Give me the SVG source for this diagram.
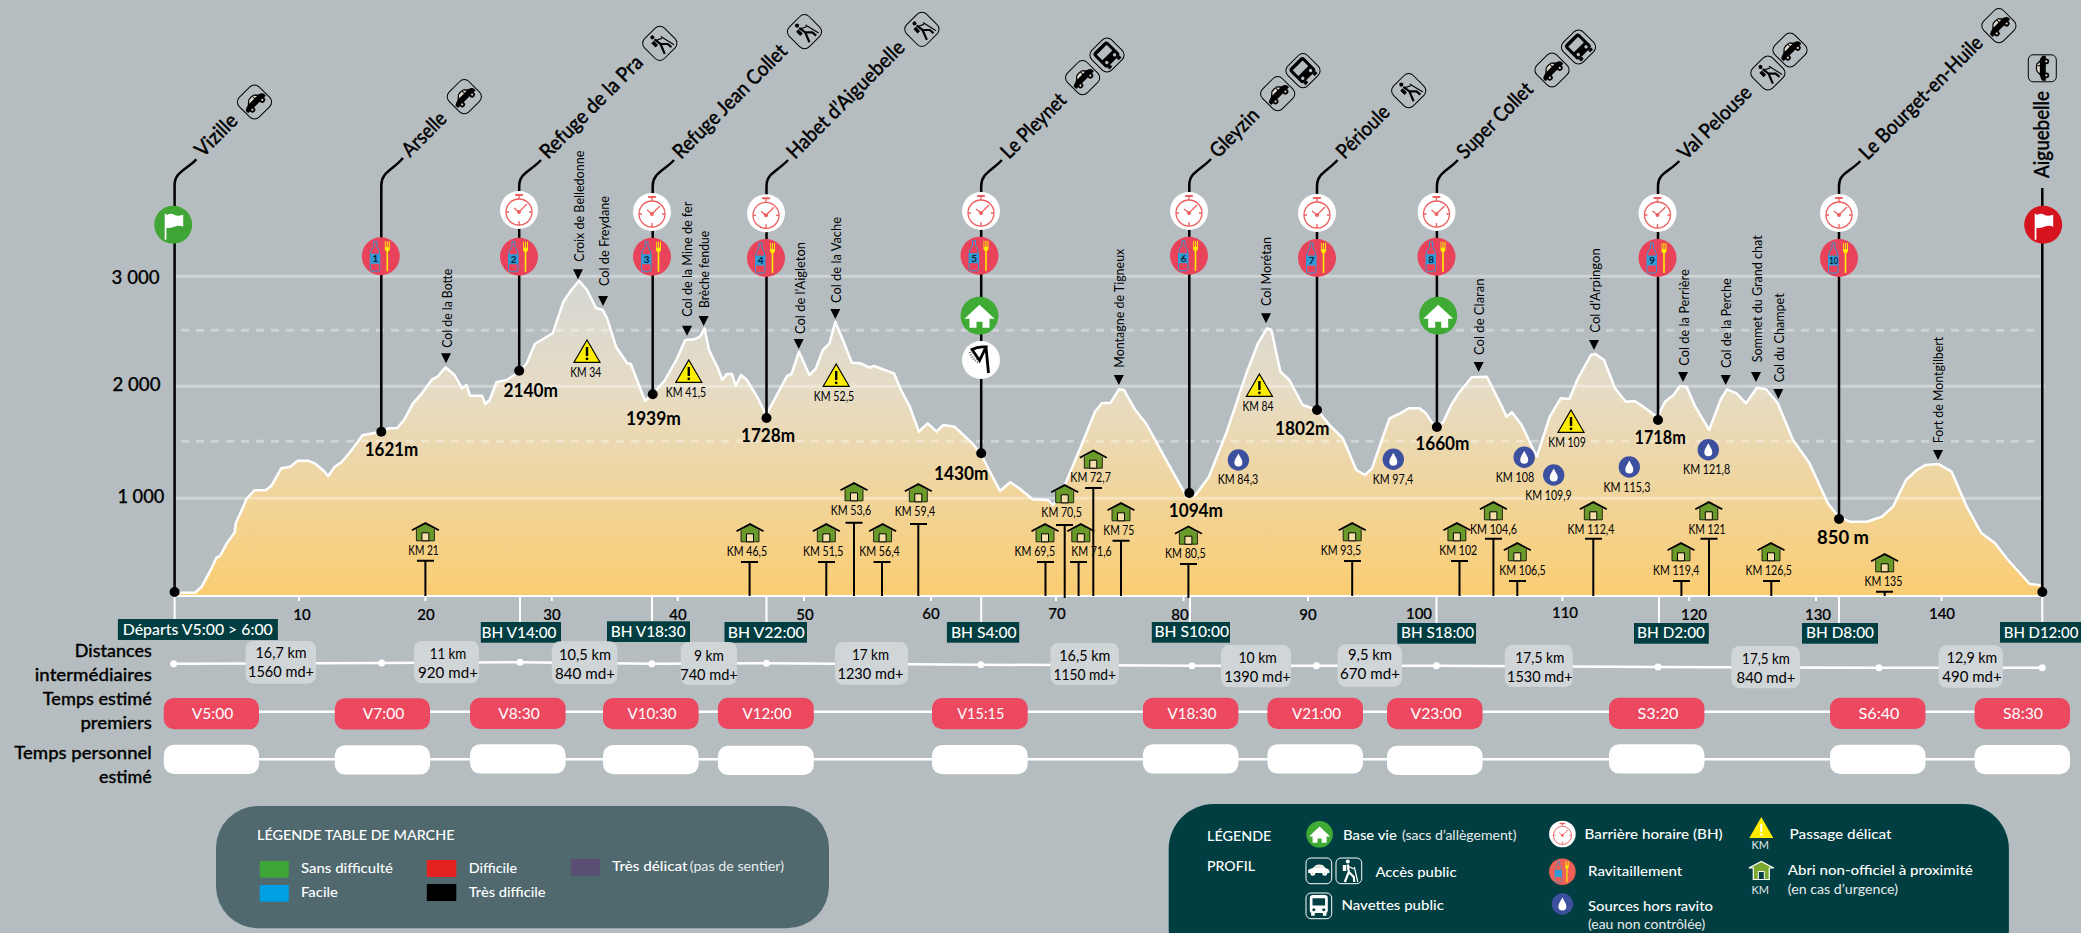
<svg xmlns="http://www.w3.org/2000/svg" width="2081" height="933" viewBox="0 0 2081 933">
<style>
text{font-family:Lato,"Open Sans","Liberation Sans",sans-serif;fill:#000}
.name{font-size:20.500px;font-weight:500;stroke:#000;stroke-width:.35}
.col{font-size:13px}
.km{font-size:12.500px;text-anchor:middle}
.num{font-size:10px;font-weight:700;text-anchor:middle;fill:#123}
.alt{font-size:18.500px;font-weight:700}
.yax{font-size:18.500px;font-weight:500;stroke:#000;stroke-width:.25}
.xax{font-size:15px;font-weight:500;text-anchor:middle;stroke:#000;stroke-width:.2}
.row{font-size:17.500px;font-weight:500;text-anchor:end;stroke:#000;stroke-width:.3}
.bh{font-size:15.500px;font-weight:500;fill:#fff}
.dist{font-size:15.500px;text-anchor:middle}
.t{font-size:15px;fill:#fff;text-anchor:middle}
.lg{font-size:13.500px;fill:#fff;font-weight:500}
.lgl{font-size:13px;fill:#e8eced}
.pole{fill:none;stroke:#000;stroke-width:2.500}
.post{fill:none;stroke:#000;stroke-width:2}
.grid{stroke:#fff;stroke-opacity:.35;stroke-width:3;fill:none}
.wl{stroke:#fff;stroke-width:2.500;fill:none}
.rp{fill:#ec4860}
.wp{fill:#fff}
.bx{fill:#d0d5d8}
.bb{fill:#003e41}
.tile{fill:none;stroke:currentColor;stroke-width:1}
</style>
<defs>
<linearGradient id="fillg" gradientUnits="userSpaceOnUse" x1="0" y1="280" x2="0" y2="596">
<stop offset="0" stop-color="#d6d7d4"/><stop offset=".35" stop-color="#e6dcc5"/><stop offset="1" stop-color="#fbcd72"/>
</linearGradient>
<path id="tri" d="M-5 0H5L0 10Z"/>
<g id="car"><path fill="currentColor" d="M-12.500 3.500V0Q-11-1.500-7-2.500L-3-6Q0-7 4.500-6L8-2.500Q12-1.500 12.500 1V3.500Z"/><path fill="#e4ddd0" d="M-2.500-5L-5-2.500H2V-5.300ZM3-5.300V-2.500H6L3.500-5.200Z"/><circle cx="-7" cy="4" r="2.900" fill="currentColor"/><circle cx="7" cy="4" r="2.900" fill="currentColor"/><circle cx="-7" cy="4" r="1.100" fill="#d9d4cc"/><circle cx="7" cy="4" r="1.100" fill="#d9d4cc"/></g>
<g id="hiker"><circle cx="-1" cy="-9.500" r="2" fill="currentColor"/><path fill="currentColor" d="M-6-6H-2.500V0H-6Z"/><path fill="none" stroke="currentColor" stroke-width="2.200" d="M-1-6.500L0 1L-4 11M0 1L5 6L5.500 11"/><path fill="none" stroke="currentColor" stroke-width="1.200" d="M-1-5L5-2M5.500-4L9 11"/></g>
<g id="bus"><path fill="currentColor" fill-rule="evenodd" d="M-6.500-11H6.500Q10-11 10-7.500V6.500Q10 9 7.500 9H-7.500Q-10 9-10 6.500V-7.500Q-10-11-6.500-11ZM-7-7.500V.5H7V-7.500ZM-5.500 3.500a1.700 1.700 0 1 0 .01 0ZM5.500 3.500a1.700 1.700 0 1 0 .01 0Z"/><path fill="currentColor" d="M-8.500 9H-4.500V12H-8.500ZM4.500 9H8.500V12H4.500Z"/></g>
<g id="tcar" style="color:#000"><rect class="tile" x="-14" y="-14" width="28" height="28" rx="6.500"/><use href="#car"/></g>
<g id="thik" style="color:#000"><rect class="tile" x="-14" y="-14" width="28" height="28" rx="6.500"/><use href="#hiker"/></g>
<g id="tbus" style="color:#000"><rect class="tile" x="-14" y="-14" width="28" height="28" rx="6.500"/><use href="#bus"/></g>
<g id="clk"><circle r="19" fill="#fff"/><g fill="none" stroke="#ee5f5f" stroke-width="1.300"><circle cy="2" r="13"/><path d="M-4-15H4M0-15V-11M0 11V15M-13 2H-10M10 2H13M-5-2L0 2L8-6" /></g><rect x="-3.500" y="-16" width="7" height="2" fill="#ee5f5f"/><circle cy="2" r="2" fill="#ee5f5f"/></g>
<g id="ravin"><path fill="none" stroke="#2f9bd7" d="M-7-15H-4V-10Q-1-6-1-2V13Q-1 15-3 15H-8Q-10.500 15-10.500 13V-2Q-10.500-6-7-10Z"/><rect x="-10.500" y="-2.500" width="9.500" height="10" fill="#2f9bd7"/><path fill="#ffed00" d="M4-15H4.800V-9H5.900V-15H6.900V-9H8V-15H9V-6.500L7.300-4.500V15H5.700V-4.500L4-6.500Z"/></g>
<g id="rav"><circle r="19" fill="#e8435a"/><use href="#ravin"/></g>
<path id="flag" fill="#fff" d="M-8.500-11H-6.800V15H-8.500ZM-6.800-9.500Q-2-12 1-10T10-10V2Q6 0 1 2T-6.800 3Z"/>
<path id="hs" fill="#fff" d="M0-11L15 3H10V12H3V6H-3V12H-10V3H-15Z"/>
<g id="base"><circle r="19" fill="#3fab35"/><use href="#hs"/></g>
<g id="sh"><path fill="#6a9b2a" d="M-9 7V18.500H9V7L0 1Z"/><path fill="none" stroke="#000" stroke-width=".8" d="M-9 7V18.500H9V7"/><path fill="none" stroke="#000" stroke-width="1.800" d="M-13.500 8L0 .8L13.500 8"/><path fill="#f6dfa8" stroke="#000" d="M-3.500 18.500V10.500H3.500V18.500Z"/></g>
<g id="war"><path fill="#ffed00" stroke="#000" stroke-width="1.200" d="M0 0L13 22.300H-13Z"/><rect x="-1.200" y="7" width="2.400" height="9" fill="#000"/><circle cy="18.800" r="1.400" fill="#000"/></g>
<g id="drp"><circle r="10.700" fill="#3d509f"/><path fill="#fff" d="M0-6.500C2-2.500 4-.5 4 2.500A4 4 0 0 1-4 2.500C-4-.5-2-2.500 0-6.500Z"/></g>
</defs>
<rect width="2081" height="933" fill="#b5bdc0"/>

<g id="profile">
<path fill="url(#fillg)" d="M174.600 596V592.700L195 592.700L201.800 586.700L209.800 571.700L216.500 557.700L220 556L226.800 543.300L234.800 532.300L235.700 523.300L243.300 506.700L246.900 498.300L254.500 490.300L265.600 490.300L271.400 485.700L281.300 468.300L290.200 466.700L297.800 460.700L308 460.700L314.700 463.300L323.700 470.700L328.100 476L334.800 466.700L341.500 462.300L350.400 451.700L362.500 435.300L380.800 431.700L388.400 428.300L397.300 428L404 420L413 403.300L421.900 393.300L432.100 379.300L437.500 376.700L445.500 367.300L454.500 375L462 388.300L466.500 385L470 395.700L482 395.700L485.300 404L489.700 400L496.400 382.300L506.700 380L519.200 371.700L526.800 363.300L534.800 344L552.700 333.300L563.400 301.700L571.400 290L579 280.700L587 290L596 308L602.700 310L607 318L616 346.700L627.200 363.300L630.800 364L645 400.700L652.700 394.300L665 380L676.300 360L685.300 340L694 339.300L700 336.700L704.500 328.300L709 350L717.900 368.300L722.300 380L726.800 374L732 374L735.700 386L741 375L747 380L758 398.300L766 415L776 396.700L787 376L791.500 374L799 351.700L809.400 375L816 368.300L822.800 350L829.500 343.300L835.300 321.700L842.900 340L851.800 362.700L860.700 363.300L869.600 367.700L874 366L894 373.300L901 390L909.800 406.700L918.800 431.700L927.700 423.300L936.600 431.700L943.300 425L954.500 426.700L972.300 443.300L981.300 455L1000 491L1010.300 482.300L1019.200 488.300L1032.600 499.300L1048.200 500L1052.700 505L1059.400 498.300L1068.300 476.700L1079.500 450L1095 411.700L1101.800 403.300L1110.700 402.700L1118.800 389.300L1124 390L1135.300 410L1146.400 424L1164.300 456.700L1186.600 496.700L1195.500 495L1209 476.700L1226.800 431.700L1247 371.700L1258 343.300L1267 328.300L1271.400 330L1280.400 371.700L1289.300 380L1302.700 405L1317.400 410L1329.500 425L1342.900 438.300L1356.300 470L1365 475L1372 468.300L1383 436.700L1389.700 418.300L1400 413.300L1408.700 408.300L1419.500 408.300L1426 413.300L1431.300 421.700L1436.500 426.700L1443.400 421.700L1451.200 405L1458.600 393.300L1471.700 377.300L1486.900 376.700L1502 406.700L1506.400 416.700L1512 412.300L1521.600 425L1536.800 456.700L1549.800 416.700L1560.700 398.300L1569.400 399L1578 378.300L1591 355L1595.400 354L1604 360L1615 388.300L1625.800 401.700L1634.500 401L1641 405L1657.500 417.300L1665 401.700L1673.600 395L1680 386L1686.600 386.700L1695.300 406.700L1709.200 430L1720.500 400L1727 389.300L1736.600 393.300L1746 403.300L1757 387.700L1766 389.300L1777.800 403.300L1793 440L1809.500 463.300L1827.800 503.300L1838.600 516.700L1849.500 521.700L1866.900 521.700L1882 516.700L1893 506.700L1906 480L1916.800 470L1925.500 465L1938.500 464L1951.600 471.700L1966.800 506.700L1981 532.700L1995 543.300L2008 560L2029.700 584L2040.600 585.300L2042.300 596Z"/>
<path class="grid" d="M173 276.300H2040M173 386.300H2045M173 498.300H2042"/>
<path class="grid" stroke-dasharray="8 7" d="M181 330.300H2040M181 441.300H2040"/>
<path fill="none" stroke="#fff" stroke-width="2.500" stroke-linejoin="round" d="M174.600 592.700L195 592.700L201.800 586.700L209.800 571.700L216.500 557.700L220 556L226.800 543.300L234.800 532.300L235.700 523.300L243.300 506.700L246.900 498.300L254.500 490.300L265.600 490.300L271.400 485.700L281.300 468.300L290.200 466.700L297.800 460.700L308 460.700L314.700 463.300L323.700 470.700L328.100 476L334.800 466.700L341.500 462.300L350.400 451.700L362.500 435.300L380.800 431.700L388.400 428.300L397.300 428L404 420L413 403.300L421.900 393.300L432.100 379.300L437.500 376.700L445.500 367.300L454.500 375L462 388.300L466.500 385L470 395.700L482 395.700L485.300 404L489.700 400L496.400 382.300L506.700 380L519.200 371.700L526.800 363.300L534.800 344L552.700 333.300L563.400 301.700L571.400 290L579 280.700L587 290L596 308L602.700 310L607 318L616 346.700L627.200 363.300L630.800 364L645 400.700L652.700 394.300L665 380L676.300 360L685.300 340L694 339.300L700 336.700L704.500 328.300L709 350L717.900 368.300L722.300 380L726.800 374L732 374L735.700 386L741 375L747 380L758 398.300L766 415L776 396.700L787 376L791.500 374L799 351.700L809.400 375L816 368.300L822.800 350L829.500 343.300L835.300 321.700L842.900 340L851.800 362.700L860.700 363.300L869.600 367.700L874 366L894 373.300L901 390L909.800 406.700L918.800 431.700L927.700 423.300L936.600 431.700L943.300 425L954.500 426.700L972.300 443.300L981.300 455L1000 491L1010.300 482.300L1019.200 488.300L1032.600 499.300L1048.200 500L1052.700 505L1059.400 498.300L1068.300 476.700L1079.500 450L1095 411.700L1101.800 403.300L1110.700 402.700L1118.800 389.300L1124 390L1135.300 410L1146.400 424L1164.300 456.700L1186.600 496.700L1195.500 495L1209 476.700L1226.800 431.700L1247 371.700L1258 343.300L1267 328.300L1271.400 330L1280.400 371.700L1289.300 380L1302.700 405L1317.400 410L1329.500 425L1342.900 438.300L1356.300 470L1365 475L1372 468.300L1383 436.700L1389.700 418.300L1400 413.300L1408.700 408.300L1419.500 408.300L1426 413.300L1431.300 421.700L1436.500 426.700L1443.400 421.700L1451.200 405L1458.600 393.300L1471.700 377.300L1486.900 376.700L1502 406.700L1506.400 416.700L1512 412.300L1521.600 425L1536.800 456.700L1549.800 416.700L1560.700 398.300L1569.400 399L1578 378.300L1591 355L1595.400 354L1604 360L1615 388.300L1625.800 401.700L1634.500 401L1641 405L1657.500 417.300L1665 401.700L1673.600 395L1680 386L1686.600 386.700L1695.300 406.700L1709.200 430L1720.500 400L1727 389.300L1736.600 393.300L1746 403.300L1757 387.700L1766 389.300L1777.800 403.300L1793 440L1809.500 463.300L1827.800 503.300L1838.600 516.700L1849.500 521.700L1866.900 521.700L1882 516.700L1893 506.700L1906 480L1916.800 470L1925.500 465L1938.500 464L1951.600 471.700L1966.800 506.700L1981 532.700L1995 543.300L2008 560L2029.700 584L2040.600 585.300"/>
<path fill="none" stroke="#fff" stroke-width="2" d="M174.600 596H2042.300M299 596V601M425.400 596V601M551.800 596V601M677.700 596V601M804 596V601M931 596V601M1056 596V601M1183.500 596V601M1308 596V601M1562.400 596V601M1689.200 596V601M1816 596V601M1941.600 596V601M174.600 596V621M520 596V622M652 596V621M766.500 596V622M981.200 596V622M1190 596V622M1436.500 596V623M1659 596V623M1839 596V623M2042.300 596V622"/>
<g><text class="xax" x="302" y="620">10</text><text class="xax" x="426" y="620">20</text><text class="xax" x="552" y="620">30</text><text class="xax" x="678" y="620">40</text><text class="xax" x="805" y="620">50</text><text class="xax" x="931" y="619">60</text><text class="xax" x="1057" y="619">70</text><text class="xax" x="1180" y="620">80</text><text class="xax" x="1308" y="620">90</text><text class="xax" x="1419" y="619">100</text><text class="xax" x="1565" y="618">110</text><text class="xax" x="1694" y="620">120</text><text class="xax" x="1818" y="620">130</text><text class="xax" x="1942" y="619">140</text></g>
<text class="yax" x="111.600" y="284" textLength="48" lengthAdjust="spacingAndGlyphs">3 000</text>
<text class="yax" x="112.500" y="391.300" textLength="48" lengthAdjust="spacingAndGlyphs">2 000</text>
<text class="yax" x="117.400" y="503.300" textLength="47" lengthAdjust="spacingAndGlyphs">1 000</text>
</g>

<g id="connectors">
<path class="pole" d="M174.600 592V185C174.600 172 186 170 196.400 159.300"/>
<path class="pole" d="M381.300 431V185C381.300 172 393 170 403 158"/>
<path class="pole" d="M519.200 370V186C519.200 173 531 171 541 160"/>
<path class="pole" d="M652.700 394V186C652.700 173 664 171 674 160"/>
<path class="pole" d="M766.500 418V186C766.500 173 778 171 788 160"/>
<path class="pole" d="M981.200 453V186C981.200 173 992 171 1001.800 160"/>
<path class="pole" d="M1189.300 493V185C1189.300 172 1201 170 1211 159"/>
<path class="pole" d="M1317 410V186C1317 173 1328 171 1337.500 160"/>
<path class="pole" d="M1436.900 427V186C1436.900 173 1448 171 1457.800 160"/>
<path class="pole" d="M1658 420V186C1658 173 1669 172 1679.300 161"/>
<path class="pole" d="M1839 519V186C1839 173 1850 172 1860.400 161"/>
<path class="pole" d="M2042.300 592V188"/>
<path class="post" d="M425.400 596V560.700M417 560.700H434M749.600 596V562M741 562H758M826.300 596V562M818 562H835M854 596V522.700M845.500 522.700H862.500M882 596V562M873.500 562H890.500M918.300 596V524M910 524H927M1045.500 596V562M1037 562H1054M1064.700 598V525M1056 525H1073M1078.600 596V562M1070 562H1087M1093.300 596V488M1085 488H1102M1121 596V540.700M1112.500 540.700H1129.500M1188.400 598V564M1180 564H1197M1352.200 596V561M1344 561H1361M1459.500 596V561M1451 561H1468M1493.400 596V538.700M1485 538.700H1502M1517.300 596V581M1509 581H1526M1593.300 596V538.700M1585 538.700H1602M1681.400 596V581M1673 581H1690M1709 596V538.700M1700.500 538.700H1717.500M1771.300 596V581M1763 581H1780M1884.700 596V591.700M1876 591.700H1893"/>
</g>

<g id="n-vizille"><circle cx="173.200" cy="224.700" r="19" fill="#3fa535"/><use href="#flag" x="173.200" y="224.700"/><circle cx="174.600" cy="592" r="5"/><text class="name" transform="translate(203,158) rotate(-45)" textLength="51" lengthAdjust="spacingAndGlyphs">Vizille</text><use href="#tcar" transform="translate(254.500,102) rotate(-45)"/></g>
<g id="n-arselle"><use href="#rav" x="380.800" y="256.300"/><text class="num" x="375.500" y="262.300">1</text><circle cx="381.300" cy="431.700" r="5"/><text class="alt" x="364.700" y="456" textLength="53.600" lengthAdjust="spacingAndGlyphs">1621m</text><text class="name" transform="translate(410,158) rotate(-45)" textLength="53.600" lengthAdjust="spacingAndGlyphs">Arselle</text><use href="#tcar" transform="translate(464.300,96.700) rotate(-45)"/></g>
<g id="n-pra"><use href="#clk" x="519" y="210"/><use href="#rav" x="519" y="256.700"/><text class="num" x="513.700" y="262.700">2</text><circle cx="519.200" cy="370.700" r="5"/><text class="alt" x="503.600" y="396.700" textLength="54.400" lengthAdjust="spacingAndGlyphs">2140m</text><text class="name" transform="translate(548,160) rotate(-45)" textLength="136" lengthAdjust="spacingAndGlyphs">Refuge de la Pra</text><use href="#thik" transform="translate(659.800,43.300) rotate(-45)"/></g>
<g id="n-collet"><use href="#clk" x="652" y="212"/><use href="#rav" x="652" y="256.700"/><text class="num" x="646.700" y="262.700">3</text><circle cx="652.700" cy="394.300" r="5"/><text class="alt" x="625.900" y="425" textLength="55" lengthAdjust="spacingAndGlyphs">1939m</text><text class="name" transform="translate(681,160) rotate(-45)" textLength="152" lengthAdjust="spacingAndGlyphs">Refuge Jean Collet</text><use href="#thik" transform="translate(804.500,31.700) rotate(-45)"/></g>
<g id="n-habet"><use href="#clk" x="766" y="213.300"/><use href="#rav" x="766" y="258"/><text class="num" x="760.700" y="264">4</text><circle cx="766.500" cy="418" r="5"/><text class="alt" x="741" y="442" textLength="54" lengthAdjust="spacingAndGlyphs">1728m</text><text class="name" transform="translate(795,160) rotate(-45)" textLength="157" lengthAdjust="spacingAndGlyphs">Habet d’Aiguebelle</text><use href="#thik" transform="translate(921.900,29.300) rotate(-45)"/></g>
<g id="n-pleynet"><use href="#clk" x="981" y="211"/><use href="#rav" x="979.500" y="255.700"/><text class="num" x="974.200" y="261.700">5</text><use href="#base" x="979.500" y="315.700"/><circle cx="981" cy="360" r="19" fill="#fff"/><path d="M972 349.500Q978 346 986 347L979.500 360.500ZM986 347L988.500 373" fill="none" stroke="#000" stroke-width="2.800"/><path d="M970 352Q971 358 979 362.500" fill="none" stroke="#777" stroke-width="3" stroke-dasharray="1 1.500"/><circle cx="981.200" cy="453.300" r="5"/><text class="alt" x="934" y="480" textLength="54.400" lengthAdjust="spacingAndGlyphs">1430m</text><text class="name" transform="translate(1009,160) rotate(-45)" textLength="83" lengthAdjust="spacingAndGlyphs">Le Pleynet</text><use href="#tcar" transform="translate(1082.600,77.700) rotate(-45)"/><use href="#tbus" transform="translate(1107,55) rotate(-45)"/></g>
<g id="n-gleyzin"><use href="#clk" x="1189" y="211"/><use href="#rav" x="1189" y="255.700"/><text class="num" x="1183.700" y="261.700">6</text><circle cx="1189.300" cy="493" r="5"/><text class="alt" x="1168.700" y="516.700" textLength="54.300" lengthAdjust="spacingAndGlyphs">1094m</text><text class="name" transform="translate(1218,159) rotate(-45)" textLength="60" lengthAdjust="spacingAndGlyphs">Gleyzin</text><use href="#tcar" transform="translate(1277.700,93.700) rotate(-45)"/><use href="#tbus" transform="translate(1303,70.700) rotate(-45)"/></g>
<g id="n-perioule"><use href="#clk" x="1317" y="213"/><use href="#rav" x="1317" y="258"/><text class="num" x="1311.700" y="264">7</text><circle cx="1317" cy="410" r="5"/><text class="alt" x="1275" y="435" textLength="54.500" lengthAdjust="spacingAndGlyphs">1802m</text><text class="name" transform="translate(1344.500,160) rotate(-45)" textLength="66" lengthAdjust="spacingAndGlyphs">Périoule</text><use href="#thik" transform="translate(1408.700,90.700) rotate(-45)"/></g>
<g id="n-supercollet"><use href="#clk" x="1436.500" y="212"/><use href="#rav" x="1436.500" y="256.700"/><text class="num" x="1431.200" y="262.700">8</text><use href="#base" x="1438.200" y="315.700"/><circle cx="1436.900" cy="427" r="5"/><text class="alt" x="1415.200" y="450" textLength="54.300" lengthAdjust="spacingAndGlyphs">1660m</text><text class="name" transform="translate(1465,160) rotate(-45)" textLength="98" lengthAdjust="spacingAndGlyphs">Super Collet</text><use href="#tcar" transform="translate(1552,70) rotate(-45)"/><use href="#tbus" transform="translate(1578.500,47) rotate(-45)"/></g>
<g id="n-valpelouse"><use href="#clk" x="1657.500" y="213"/><use href="#rav" x="1657.500" y="258"/><text class="num" x="1652.200" y="264">9</text><circle cx="1658" cy="420" r="5"/><text class="alt" x="1634.500" y="444.300" textLength="51.300" lengthAdjust="spacingAndGlyphs">1718m</text><text class="name" transform="translate(1686,161) rotate(-45)" textLength="95" lengthAdjust="spacingAndGlyphs">Val Pelouse</text><use href="#thik" transform="translate(1767.900,73) rotate(-45)"/><use href="#tcar" transform="translate(1790,50) rotate(-45)"/></g>
<g id="n-bourget"><use href="#clk" x="1839" y="213"/><use href="#rav" x="1839" y="258"/><text class="num" x="1833.700" y="264" textLength="9" lengthAdjust="spacingAndGlyphs">10</text><circle cx="1839" cy="519" r="5"/><text class="alt" x="1817" y="544.300" textLength="52" lengthAdjust="spacingAndGlyphs">850 m</text><text class="name" transform="translate(1867.500,161) rotate(-45)" textLength="165" lengthAdjust="spacingAndGlyphs">Le Bourget-en-Huile</text><use href="#tcar" transform="translate(1998.900,25.700) rotate(-45)"/></g>
<g id="n-aiguebelle"><circle cx="2043.200" cy="224.700" r="19" fill="#d6141e"/><use href="#flag" x="2043.200" y="224.700"/><circle cx="2042.300" cy="592" r="5"/><text class="name" transform="translate(2049,178) rotate(-90)" textLength="87" lengthAdjust="spacingAndGlyphs">Aiguebelle</text><rect x="2028.300" y="54.800" width="28" height="27" rx="5" class="tile" style="color:#000"/><use href="#car" style="color:#000" transform="translate(2042.300,68.300) rotate(-90)"/></g>

<g id="cols">
<use href="#tri" x="446" y="353.300"/><text class="col" transform="translate(451.500,347.700) rotate(-90)" textLength="79" lengthAdjust="spacingAndGlyphs">Col de la Botte</text>
<use href="#tri" x="578" y="269.300"/><text class="col" transform="translate(583.500,261.700) rotate(-90)" textLength="111" lengthAdjust="spacingAndGlyphs">Croix de Belledonne</text>
<use href="#tri" x="603" y="296"/><text class="col" transform="translate(609,286) rotate(-90)" textLength="90" lengthAdjust="spacingAndGlyphs">Col de Freydane</text>
<use href="#tri" x="687" y="325.700"/><text class="col" transform="translate(692,316.700) rotate(-90)" textLength="115" lengthAdjust="spacingAndGlyphs">Col de la Mine de fer</text>
<use href="#tri" x="703.600" y="316"/><text class="col" transform="translate(709,308) rotate(-90)" textLength="77" lengthAdjust="spacingAndGlyphs">Brèche fendue</text>
<use href="#tri" x="798.700" y="339"/><text class="col" transform="translate(805,334) rotate(-90)" textLength="92" lengthAdjust="spacingAndGlyphs">Col de l’Aigleton</text>
<use href="#tri" x="835.300" y="309"/><text class="col" transform="translate(841,303) rotate(-90)" textLength="86" lengthAdjust="spacingAndGlyphs">Col de la Vache</text>
<use href="#tri" x="1118.800" y="375"/><text class="col" transform="translate(1123.500,367.700) rotate(-90)" textLength="119" lengthAdjust="spacingAndGlyphs">Montagne de Tigneux</text>
<use href="#tri" x="1266" y="313.300"/><text class="col" transform="translate(1271.400,306) rotate(-90)" textLength="69" lengthAdjust="spacingAndGlyphs">Col Morétan</text>
<use href="#tri" x="1478.600" y="362"/><text class="col" transform="translate(1483.800,355) rotate(-90)" textLength="76.500" lengthAdjust="spacingAndGlyphs">Col de Claran</text>
<use href="#tri" x="1594" y="340"/><text class="col" transform="translate(1599.800,332.700) rotate(-90)" textLength="84.400" lengthAdjust="spacingAndGlyphs">Col d’Arpingon</text>
<use href="#tri" x="1683" y="372"/><text class="col" transform="translate(1688.800,365.700) rotate(-90)" textLength="96.400" lengthAdjust="spacingAndGlyphs">Col de la Perrière</text>
<use href="#tri" x="1725.700" y="375"/><text class="col" transform="translate(1731.400,368) rotate(-90)" textLength="89.700" lengthAdjust="spacingAndGlyphs">Col de la Perche</text>
<use href="#tri" x="1756" y="372"/><text class="col" transform="translate(1761.800,362.300) rotate(-90)" textLength="127" lengthAdjust="spacingAndGlyphs">Sommet du Grand chat</text>
<use href="#tri" x="1778.300" y="389"/><text class="col" transform="translate(1784,382.300) rotate(-90)" textLength="89" lengthAdjust="spacingAndGlyphs">Col du Champet</text>
<use href="#tri" x="1938" y="450"/><text class="col" transform="translate(1943,443.300) rotate(-90)" textLength="106.600" lengthAdjust="spacingAndGlyphs">Fort de Montgilbert</text>
</g>

<g id="warnings">
<use href="#war" x="587" y="340"/><text class="km" x="585.700" y="376.700" textLength="31" lengthAdjust="spacingAndGlyphs">KM 34</text>
<use href="#war" x="688.800" y="360"/><text class="km" x="686" y="397" textLength="40.500" lengthAdjust="spacingAndGlyphs">KM 41,5</text>
<use href="#war" x="836.200" y="364"/><text class="km" x="834" y="401" textLength="40.500" lengthAdjust="spacingAndGlyphs">KM 52,5</text>
<use href="#war" x="1259.400" y="374"/><text class="km" x="1258" y="411" textLength="31" lengthAdjust="spacingAndGlyphs">KM 84</text>
<use href="#war" x="1571" y="410"/><text class="km" x="1567" y="447" textLength="37.500" lengthAdjust="spacingAndGlyphs">KM 109</text>
</g>
<g id="sources">
<use href="#drp" x="1238.400" y="460"/><text class="km" x="1238" y="483.700" textLength="40.500" lengthAdjust="spacingAndGlyphs">KM 84,3</text>
<use href="#drp" x="1393.300" y="459.300"/><text class="km" x="1393" y="483.700" textLength="40.500" lengthAdjust="spacingAndGlyphs">KM 97,4</text>
<use href="#drp" x="1524.200" y="457.300"/><text class="km" x="1515" y="482" textLength="38.500" lengthAdjust="spacingAndGlyphs">KM 108</text>
<use href="#drp" x="1553.700" y="475"/><text class="km" x="1548.500" y="500" textLength="46.500" lengthAdjust="spacingAndGlyphs">KM 109,9</text>
<use href="#drp" x="1629.300" y="467"/><text class="km" x="1627" y="492" textLength="47" lengthAdjust="spacingAndGlyphs">KM 115,3</text>
<use href="#drp" x="1708.300" y="449.700"/><text class="km" x="1706.600" y="474" textLength="47" lengthAdjust="spacingAndGlyphs">KM 121,8</text>
</g>
<g id="shelters">
<use href="#sh" x="425.400" y="522.300"/><text class="km" x="423.500" y="555" textLength="30.500" lengthAdjust="spacingAndGlyphs">KM 21</text>
<use href="#sh" x="750" y="523.300"/><text class="km" x="746.900" y="556" textLength="40.500" lengthAdjust="spacingAndGlyphs">KM 46,5</text>
<use href="#sh" x="826.300" y="523.300"/><text class="km" x="823.200" y="556" textLength="40.500" lengthAdjust="spacingAndGlyphs">KM 51,5</text>
<use href="#sh" x="854" y="482.300"/><text class="km" x="850.900" y="515" textLength="40.500" lengthAdjust="spacingAndGlyphs">KM 53,6</text>
<use href="#sh" x="882.600" y="523.300"/><text class="km" x="879.500" y="556" textLength="40.500" lengthAdjust="spacingAndGlyphs">KM 56,4</text>
<use href="#sh" x="918.300" y="483.300"/><text class="km" x="915" y="515.700" textLength="40.500" lengthAdjust="spacingAndGlyphs">KM 59,4</text>
<use href="#sh" x="1045" y="523.300"/><text class="km" x="1034.800" y="556" textLength="40.500" lengthAdjust="spacingAndGlyphs">KM 69,5</text>
<use href="#sh" x="1064.700" y="484.300"/><text class="km" x="1061.600" y="517" textLength="40.500" lengthAdjust="spacingAndGlyphs">KM 70,5</text>
<use href="#sh" x="1080.800" y="523.300"/><text class="km" x="1091.500" y="556" textLength="40.500" lengthAdjust="spacingAndGlyphs">KM 71,6</text>
<use href="#sh" x="1093.300" y="449.700"/><text class="km" x="1090.600" y="482" textLength="40.500" lengthAdjust="spacingAndGlyphs">KM 72,7</text>
<use href="#sh" x="1121" y="502.300"/><text class="km" x="1118.800" y="535" textLength="31" lengthAdjust="spacingAndGlyphs">KM 75</text>
<use href="#sh" x="1188.400" y="525.700"/><text class="km" x="1185.300" y="558" textLength="40.500" lengthAdjust="spacingAndGlyphs">KM 80,5</text>
<use href="#sh" x="1352.200" y="522.300"/><text class="km" x="1341" y="555" textLength="40.500" lengthAdjust="spacingAndGlyphs">KM 93,5</text>
<use href="#sh" x="1456.900" y="522.300"/><text class="km" x="1458.200" y="555" textLength="38" lengthAdjust="spacingAndGlyphs">KM 102</text>
<use href="#sh" x="1493.400" y="501.300"/><text class="km" x="1493.400" y="534" textLength="47" lengthAdjust="spacingAndGlyphs">KM 104,6</text>
<use href="#sh" x="1517.300" y="542.300"/><text class="km" x="1522.500" y="575" textLength="46.500" lengthAdjust="spacingAndGlyphs">KM 106,5</text>
<use href="#sh" x="1593.300" y="501.300"/><text class="km" x="1591" y="534" textLength="47" lengthAdjust="spacingAndGlyphs">KM 112,4</text>
<use href="#sh" x="1681" y="542.300"/><text class="km" x="1676.200" y="575" textLength="46.500" lengthAdjust="spacingAndGlyphs">KM 119,4</text>
<use href="#sh" x="1708.800" y="501.300"/><text class="km" x="1707" y="534" textLength="37" lengthAdjust="spacingAndGlyphs">KM 121</text>
<use href="#sh" x="1771" y="542.300"/><text class="km" x="1768.700" y="575" textLength="46.500" lengthAdjust="spacingAndGlyphs">KM 126,5</text>
<use href="#sh" x="1884.700" y="553.300"/><text class="km" x="1883.400" y="585.700" textLength="38" lengthAdjust="spacingAndGlyphs">KM 135</text>
</g>

<g id="bh-labels">
<rect class="bb" x="117.900" y="619" width="160" height="21"/><text class="bh" x="122.800" y="635" textLength="150" lengthAdjust="spacingAndGlyphs">Départs V5:00 &gt; 6:00</text>
<rect class="bb" x="480.800" y="622" width="80.200" height="20.700"/><text class="bh" x="481.500" y="637.700" textLength="75" lengthAdjust="spacingAndGlyphs">BH V14:00</text>
<rect class="bb" x="607" y="621.300" width="83" height="20.700"/><text class="bh" x="610.700" y="637" textLength="75" lengthAdjust="spacingAndGlyphs">BH V18:30</text>
<rect class="bb" x="724.500" y="622" width="82.500" height="20.700"/><text class="bh" x="727.700" y="637.700" textLength="77" lengthAdjust="spacingAndGlyphs">BH V22:00</text>
<rect class="bb" x="946.900" y="622" width="72.300" height="20.700"/><text class="bh" x="950.900" y="637.700" textLength="65.600" lengthAdjust="spacingAndGlyphs">BH S4:00</text>
<rect class="bb" x="1151.800" y="622" width="78.200" height="20.700"/><text class="bh" x="1154.500" y="637" textLength="74.500" lengthAdjust="spacingAndGlyphs">BH S10:00</text>
<rect class="bb" x="1397.300" y="623" width="78.700" height="20.700"/><text class="bh" x="1401" y="638.300" textLength="73" lengthAdjust="spacingAndGlyphs">BH S18:00</text>
<rect class="bb" x="1634" y="623" width="74.800" height="20.700"/><text class="bh" x="1637" y="638.300" textLength="68" lengthAdjust="spacingAndGlyphs">BH D2:00</text>
<rect class="bb" x="1802" y="623" width="76" height="20.700"/><text class="bh" x="1806" y="638.300" textLength="68" lengthAdjust="spacingAndGlyphs">BH D8:00</text>
<rect class="bb" x="2000" y="622" width="81" height="20.700"/><text class="bh" x="2003.700" y="637.700" textLength="74.700" lengthAdjust="spacingAndGlyphs">BH D12:00</text>
</g>

<g id="row-labels">
<text class="row" x="151.800" y="657.300" textLength="77" lengthAdjust="spacingAndGlyphs">Distances</text>
<text class="row" x="151.800" y="681.300" textLength="117" lengthAdjust="spacingAndGlyphs">intermédiaires</text>
<text class="row" x="151.800" y="705.300" textLength="109" lengthAdjust="spacingAndGlyphs">Temps estimé</text>
<text class="row" x="151.800" y="729" textLength="71.400" lengthAdjust="spacingAndGlyphs">premiers</text>
<text class="row" x="151.800" y="759" textLength="137.500" lengthAdjust="spacingAndGlyphs">Temps personnel</text>
<text class="row" x="151.800" y="783" textLength="52.700" lengthAdjust="spacingAndGlyphs">estimé</text>
</g>

<g id="distances">
<path class="wl" d="M173.700 663.700L381.700 663L520 662.300L651.800 663.700L766.500 663.300L980.800 664.700L1192 665.700L1316.500 665.700L1436.500 665.700L1658 667L1879 667.700L2042.300 667.700"/>
<g fill="#fff"><circle cx="173.700" cy="663.700" r="3.500"/><circle cx="381.700" cy="663" r="3.500"/><circle cx="520" cy="662.300" r="3.500"/><circle cx="651.800" cy="663.700" r="3.500"/><circle cx="766.500" cy="663.300" r="3.500"/><circle cx="980.800" cy="664.700" r="3.500"/><circle cx="1192" cy="665.700" r="3.500"/><circle cx="1316.500" cy="665.700" r="3.500"/><circle cx="1436.500" cy="665.700" r="3.500"/><circle cx="1658" cy="667" r="3.500"/><circle cx="1879" cy="667.700" r="3.500"/><circle cx="2042.300" cy="667.700" r="3.500"/></g>
<rect class="bx" x="245.500" y="641" width="70.500" height="42.700" rx="8"/><text class="dist" x="281" y="658" textLength="51" lengthAdjust="spacingAndGlyphs">16,7 km</text><text class="dist" x="281" y="677" textLength="66" lengthAdjust="spacingAndGlyphs">1560 md+</text>
<rect class="bx" x="414" y="641" width="65" height="42.300" rx="8"/><text class="dist" x="448" y="659.300" textLength="36.600" lengthAdjust="spacingAndGlyphs">11 km</text><text class="dist" x="448" y="678" textLength="59.800" lengthAdjust="spacingAndGlyphs">920 md+</text>
<rect class="bx" x="551.800" y="641.300" width="65.600" height="42.700" rx="8"/><text class="dist" x="585" y="660" textLength="52" lengthAdjust="spacingAndGlyphs">10,5 km</text><text class="dist" x="585" y="679" textLength="60" lengthAdjust="spacingAndGlyphs">840 md+</text>
<rect class="bx" x="680.800" y="642" width="56.200" height="43" rx="8"/><text class="dist" x="709" y="661" textLength="30" lengthAdjust="spacingAndGlyphs">9 km</text><text class="dist" x="709" y="680" textLength="57.600" lengthAdjust="spacingAndGlyphs">740 md+</text>
<rect class="bx" x="835" y="642" width="73" height="42.700" rx="8"/><text class="dist" x="870.500" y="660" textLength="37" lengthAdjust="spacingAndGlyphs">17 km</text><text class="dist" x="870.500" y="679" textLength="66" lengthAdjust="spacingAndGlyphs">1230 md+</text>
<rect class="bx" x="1050.400" y="643" width="68.400" height="42" rx="8"/><text class="dist" x="1084.800" y="661" textLength="51" lengthAdjust="spacingAndGlyphs">16,5 km</text><text class="dist" x="1084.800" y="680" textLength="62.500" lengthAdjust="spacingAndGlyphs">1150 md+</text>
<rect class="bx" x="1221" y="645" width="70" height="42.300" rx="8"/><text class="dist" x="1257.600" y="663.300" textLength="38.400" lengthAdjust="spacingAndGlyphs">10 km</text><text class="dist" x="1257.600" y="682" textLength="66.500" lengthAdjust="spacingAndGlyphs">1390 md+</text>
<rect class="bx" x="1337.500" y="644.300" width="64.500" height="42.400" rx="8"/><text class="dist" x="1370" y="660" textLength="44" lengthAdjust="spacingAndGlyphs">9,5 km</text><text class="dist" x="1370" y="679" textLength="60" lengthAdjust="spacingAndGlyphs">670 md+</text>
<rect class="bx" x="1504.700" y="644.700" width="68.100" height="42.300" rx="8"/><text class="dist" x="1539.800" y="663.300" textLength="49" lengthAdjust="spacingAndGlyphs">17,5 km</text><text class="dist" x="1539.800" y="682" textLength="65.600" lengthAdjust="spacingAndGlyphs">1530 md+</text>
<rect class="bx" x="1731.400" y="646" width="68.600" height="42.300" rx="8"/><text class="dist" x="1766" y="664.300" textLength="47.800" lengthAdjust="spacingAndGlyphs">17,5 km</text><text class="dist" x="1766" y="683" textLength="59" lengthAdjust="spacingAndGlyphs">840 md+</text>
<rect class="bx" x="1938.500" y="645.300" width="64.300" height="42.400" rx="8"/><text class="dist" x="1972" y="663.300" textLength="50.400" lengthAdjust="spacingAndGlyphs">12,9 km</text><text class="dist" x="1972" y="682" textLength="59.500" lengthAdjust="spacingAndGlyphs">490 md+</text>
</g>

<g id="temps-premiers">
<path class="wl" d="M259 711.700H2000"/>
<rect class="rp" x="163.800" y="698" width="95.200" height="31.300" rx="10"/><text class="t" x="212.500" y="719.300" textLength="41.500" lengthAdjust="spacingAndGlyphs">V5:00</text>
<rect class="rp" x="334.800" y="698.300" width="95.200" height="31.300" rx="10"/><text class="t" x="383.500" y="719.300" textLength="41.500" lengthAdjust="spacingAndGlyphs">V7:00</text>
<rect class="rp" x="470" y="697.700" width="95.600" height="31.300" rx="10"/><text class="t" x="519" y="719.300" textLength="41.500" lengthAdjust="spacingAndGlyphs">V8:30</text>
<rect class="rp" x="603" y="698" width="95.600" height="31.300" rx="10"/><text class="t" x="652" y="719.300" textLength="49" lengthAdjust="spacingAndGlyphs">V10:30</text>
<rect class="rp" x="717.900" y="697.700" width="95.900" height="31.300" rx="10"/><text class="t" x="767" y="719.300" textLength="49" lengthAdjust="spacingAndGlyphs">V12:00</text>
<rect class="rp" x="932" y="698" width="95.700" height="31.300" rx="10"/><text class="t" x="980.800" y="719.300" textLength="47" lengthAdjust="spacingAndGlyphs">V15:15</text>
<rect class="rp" x="1142.900" y="697.700" width="95.500" height="31.300" rx="10"/><text class="t" x="1192" y="719.300" textLength="49" lengthAdjust="spacingAndGlyphs">V18:30</text>
<rect class="rp" x="1267.400" y="697.700" width="95.600" height="31.300" rx="10"/><text class="t" x="1316.500" y="719.300" textLength="49" lengthAdjust="spacingAndGlyphs">V21:00</text>
<rect class="rp" x="1387" y="698" width="95.500" height="31.300" rx="10"/><text class="t" x="1436" y="719.300" textLength="51" lengthAdjust="spacingAndGlyphs">V23:00</text>
<rect class="rp" x="1609" y="697.700" width="95.400" height="31.300" rx="10"/><text class="t" x="1658" y="719.300" textLength="41" lengthAdjust="spacingAndGlyphs">S3:20</text>
<rect class="rp" x="1830" y="697.700" width="95.500" height="31.300" rx="10"/><text class="t" x="1879" y="719.300" textLength="41" lengthAdjust="spacingAndGlyphs">S6:40</text>
<rect class="rp" x="1974.600" y="698" width="95.400" height="31.300" rx="10"/><text class="t" x="2023" y="719.300" textLength="40" lengthAdjust="spacingAndGlyphs">S8:30</text>
</g>
<g id="temps-personnel">
<path class="wl" d="M259 759.300H2000"/>
<rect class="wp" x="163.800" y="744.700" width="95.200" height="29.300" rx="10"/>
<rect class="wp" x="334.800" y="745.300" width="95.200" height="29.300" rx="10"/>
<rect class="wp" x="470" y="744.300" width="95.600" height="29.300" rx="10"/>
<rect class="wp" x="603" y="745" width="95.600" height="29.300" rx="10"/>
<rect class="wp" x="717.900" y="745.700" width="95.900" height="29.300" rx="10"/>
<rect class="wp" x="932" y="745" width="95.700" height="29.300" rx="10"/>
<rect class="wp" x="1142.900" y="744.300" width="95.500" height="29.300" rx="10"/>
<rect class="wp" x="1267.400" y="744.300" width="95.600" height="29.300" rx="10"/>
<rect class="wp" x="1387" y="745.700" width="95.500" height="29.300" rx="10"/>
<rect class="wp" x="1609" y="744.300" width="95.400" height="29.300" rx="10"/>
<rect class="wp" x="1830" y="744.700" width="95.500" height="29.300" rx="10"/>
<rect class="wp" x="1974.600" y="745" width="95.400" height="29.300" rx="10"/>
</g>

<g id="legend-marche">
<rect x="216" y="806" width="613" height="122.300" rx="42" fill="#50696e"/>
<text class="lg" x="257" y="840" textLength="197.500" lengthAdjust="spacingAndGlyphs">LÉGENDE TABLE DE MARCHE</text>
<rect x="259.800" y="861" width="29" height="16.700" fill="#3ca535"/><text class="lg" x="301" y="873.300" textLength="92" lengthAdjust="spacingAndGlyphs">Sans difficulté</text>
<rect x="259.800" y="885" width="29" height="16.700" fill="#009fe3"/><text class="lg" x="301" y="897.300" textLength="37" lengthAdjust="spacingAndGlyphs">Facile</text>
<rect x="426.800" y="860" width="29.500" height="17" fill="#e42320"/><text class="lg" x="468.700" y="872.700" textLength="48.300" lengthAdjust="spacingAndGlyphs">Difficile</text>
<rect x="426.800" y="884" width="29.500" height="17" fill="#000"/><text class="lg" x="468.700" y="897.300" textLength="76.800" lengthAdjust="spacingAndGlyphs">Très difficile</text>
<rect x="571" y="859" width="29" height="16.700" fill="#5a4f73"/><text class="lg" x="612" y="871" textLength="75.500" lengthAdjust="spacingAndGlyphs">Très délicat</text><text class="lgl" x="689.700" y="871" textLength="94.300" lengthAdjust="spacingAndGlyphs">(pas de sentier)</text>
</g>

<g id="legend-profil">
<rect x="1168.700" y="804" width="840.200" height="170" rx="45" fill="#003e41"/>
<text class="lg" x="1207" y="840.700" textLength="64.400" lengthAdjust="spacingAndGlyphs">LÉGENDE</text>
<text class="lg" x="1207" y="871" textLength="48" lengthAdjust="spacingAndGlyphs">PROFIL</text>
<use href="#base" transform="translate(1319.600,834.300) scale(.7)"/>
<text class="lg" x="1342.900" y="840" textLength="54" lengthAdjust="spacingAndGlyphs">Base vie</text><text class="lgl" x="1402" y="840" textLength="114.400" lengthAdjust="spacingAndGlyphs">(sacs d’allègement)</text>
<g style="color:#fff"><rect x="1306" y="858" width="25.700" height="25.700" rx="5" class="tile"/><use href="#car" transform="translate(1318.800,870) scale(.85)"/><rect x="1336" y="858" width="25.700" height="25.700" rx="5" class="tile"/><use href="#hiker" transform="translate(1348.800,871)"/><rect x="1306" y="893" width="25.700" height="25.700" rx="5" class="tile"/><use href="#bus" transform="translate(1318.800,905) scale(.9)"/></g>
<text class="lg" x="1375.400" y="876.700" textLength="81.100" lengthAdjust="spacingAndGlyphs">Accès public</text>
<text class="lg" x="1341.500" y="910" textLength="102.400" lengthAdjust="spacingAndGlyphs">Navettes public</text>
<use href="#clk" transform="translate(1562.400,834) scale(.7)"/>
<text class="lg" x="1584.600" y="839" textLength="138.100" lengthAdjust="spacingAndGlyphs">Barrière horaire (BH)</text>
<g transform="translate(1562.400,871.700) scale(.7)"><circle r="19" fill="#ee6055"/><use href="#ravin"/></g>
<text class="lg" x="1588" y="876" textLength="94.300" lengthAdjust="spacingAndGlyphs">Ravitaillement</text>
<use href="#drp" x="1562.400" y="904"/>
<text class="lg" x="1588" y="911" textLength="125" lengthAdjust="spacingAndGlyphs">Sources hors ravito</text>
<text class="lgl" x="1588" y="929.300" textLength="117.300" lengthAdjust="spacingAndGlyphs">(eau non contrôlée)</text>
<g transform="translate(1761.300,817)"><path fill="#ffed00" d="M0 0L12 21H-12Z"/><rect x="-1" y="7" width="2" height="8" fill="#fff"/><circle cy="17.500" r="1.300" fill="#fff"/></g>
<text class="lgl" style="font-size:11px" x="1751.500" y="849">KM</text>
<text class="lg" x="1789.600" y="839.300" textLength="102" lengthAdjust="spacingAndGlyphs">Passage délicat</text>
<g transform="translate(1761.300,861)"><path fill="#7ca82e" stroke="#fff" stroke-width="1.200" d="M-8 7V18.500H8V7H12.500L0 .5L-12.500 7Z"/><path fill="#003e41" stroke="#fff" d="M-3 18.500V10.500H3V18.500Z"/></g>
<text class="lgl" style="font-size:11px" x="1751.500" y="894.300">KM</text>
<text class="lg" x="1787.800" y="875" textLength="185" lengthAdjust="spacingAndGlyphs">Abri non-officiel à proximité</text>
<text class="lgl" x="1787.800" y="894.300" textLength="110.200" lengthAdjust="spacingAndGlyphs">(en cas d’urgence)</text>
</g>
</svg>
